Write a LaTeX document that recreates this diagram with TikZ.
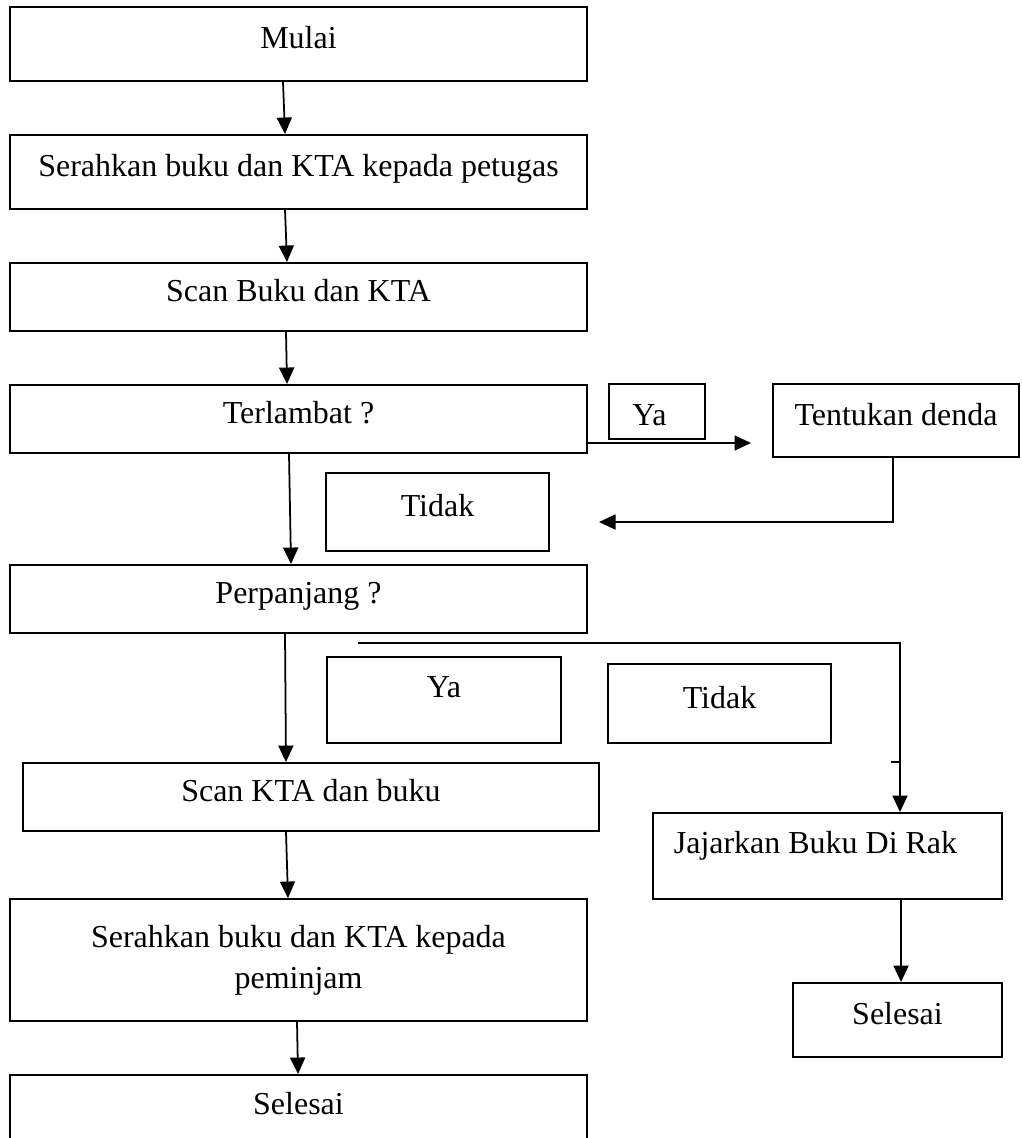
\documentclass[tikz,border=0pt]{standalone}
\usepackage{fontspec}
\setmainfont{Liberation Serif}
\usepackage{tikz}
\usetikzlibrary{arrows.meta}

\begin{document}
\begin{tikzpicture}[
  x=0.02cm,
  y=-0.02cm,
  line width=1.1pt,
  font=\fontsize{18.2}{23.5}\selectfont,
  >={Triangle[length=0.33cm,width=0.3cm]},
  myrect/.style 2 args={
    draw,
    rectangle,
    minimum width=#1,
    minimum height=#2,
    inner sep=0pt,
    align=center,
    text height=0.46cm,
    text depth=0.28cm
    },
  raised/.style={
    text depth=0.56cm
  },
  twolines/.style={
    text height={},
    text depth={}
  },
  myarrow/.style={
    ->,
    line width=1pt
  }
]
\useasboundingbox (0,0) rectangle (1021,1138);

\node[myrect={11.54cm}{1.48cm}] (mulai) at (298.5,44) {Mulai};
\node[myrect={11.54cm}{1.48cm}] (serah) at (298.5,172) {Serahkan buku dan KTA kepada petugas};
\node[myrect={11.54cm}{1.36cm}] (scan) at (298.5,297) {Scan Buku dan KTA};
\node[myrect={11.54cm}{1.36cm}] (telat) at (298.5,419) {Terlambat ?};
\node[myrect={1.92cm}{1.10cm}, text height=0.6cm, text depth=0.04cm] (ya1) at (657,411.5) {Ya\hspace*{0.3cm}};
\node[myrect={4.92cm}{1.46cm}] (denda) at (896,420.5) {Tentukan denda};
\node[myrect={4.46cm}{1.56cm}] (tidak1) at (437.5,512) {Tidak};
\node[myrect={11.54cm}{1.36cm}] (panjang) at (298.5,599) {Perpanjang ?};
\node[myrect={4.68cm}{1.72cm}, raised] (ya2) at (444,700) {Ya};
\node[myrect={4.46cm}{1.58cm}] (tidak2) at (719.5,703.5) {Tidak};
\node[myrect={11.52cm}{1.36cm}] (scankta) at (311,797) {Scan KTA dan buku};
\node[myrect={6.98cm}{1.72cm}, raised] (jajar) at (827.5,856) {Jajarkan Buku Di Rak\hspace*{0.48cm}};
\node[myrect={11.54cm}{2.44cm}, twolines] (serahpinjam) at (298.5,960) {Serahkan buku dan KTA kepada\\peminjam};
\node[myrect={4.18cm}{1.48cm}] (selesaikanan) at (897.5,1020) {Selesai};
\node[myrect={11.54cm}{1.40cm}] (selesai) at (298.5,1110) {Selesai};

\coordinate (yaend) at (751,443);
\coordinate (dendaend) at (599,522);
\coordinate (panjangstart) at (358,643);

\draw[myarrow] (mulai.south -| 283,0) -- (serah.north -| 285,0);
\draw[myarrow] (serah.south -| 285,0) -- (scan.north -| 287,0);
\draw[myarrow] (scan.south -| 286,0) -- (telat.north -| 287,0);
\draw[myarrow] (telat.south -| 289,0) -- (panjang.north -| 291,0);
\draw[myarrow] (panjang.south -| 285,0) -- (scankta.north -| 286,0);
\draw[myarrow] (scankta.south -| 286,0) -- (serahpinjam.north -| 288,0);
\draw[myarrow] (serahpinjam.south -| 297,0) -- (selesai.north -| 298,0);

\draw[myarrow] (telat.east |- yaend) -- (yaend);
\draw[myarrow] (denda.south -| 893,0) |- (dendaend);
\draw[myarrow] (panjangstart) -| (jajar.north -| 900,0);
\draw (891,762) -- (900,762);
\draw[myarrow] (jajar.south -| 901,0) -- (selesaikanan.north -| 901,0);

\end{tikzpicture}
\end{document}
